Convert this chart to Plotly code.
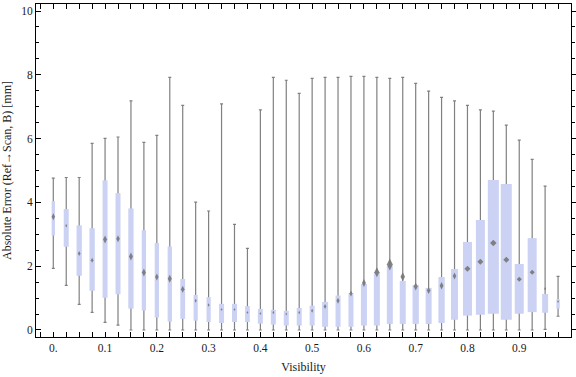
import plotly.graph_objects as go

# ---------------- data ----------------
visibility = [0.0, 0.025, 0.05, 0.075, 0.1, 0.125, 0.15, 0.175, 0.2, 0.225,
              0.25, 0.275, 0.3, 0.325, 0.35, 0.375, 0.4, 0.425, 0.45, 0.475,
              0.5, 0.525, 0.55, 0.575, 0.6, 0.625, 0.65, 0.675, 0.7, 0.725,
              0.75, 0.775, 0.8, 0.825, 0.85, 0.875, 0.9, 0.925, 0.95, 0.975]

whisker_max = [4.76, 4.78, 4.78, 5.85, 6.01, 6.05, 7.18, 5.88, 6.10, 7.92,
               7.04, 4.01, 3.73, 7.09, 3.31, 2.56, 6.90, 7.92, 7.83, 7.42,
               7.89, 7.92, 7.92, 7.95, 7.95, 7.92, 7.89, 7.92, 7.73, 7.49,
               7.29, 7.18, 7.04, 6.90, 6.86, 6.42, 5.95, 5.35, 4.51, 1.68]

q3 = [4.04, 3.79, 3.28, 3.19, 4.69, 4.29, 3.81, 3.13, 2.73, 2.62,
      1.60, 1.10, 1.03, 0.82, 0.82, 0.75, 0.66, 0.63, 0.60, 0.69,
      0.76, 0.88, 1.08, 1.16, 1.44, 1.82, 2.01, 1.54, 1.41, 1.32,
      1.66, 1.91, 2.76, 3.45, 4.70, 4.58, 2.07, 2.88, 1.13, 0.97]

mean_marker = [3.55, 3.27, 2.40, 2.19, 2.84, 2.86, 2.30, 1.80, 1.66, 1.61,
               1.28, 0.92, 0.78, 0.64, 0.64, 0.55, 0.52, 0.55, 0.50, 0.55,
               0.60, 0.74, 0.92, 1.14, 1.47, 1.81, 2.05, 1.67, 1.36, 1.24,
               1.39, 1.69, 1.92, 2.14, 2.73, 2.20, 1.59, 1.81, 1.29, 0.89]

q1 = [2.96, 2.61, 1.70, 1.23, 1.01, 1.12, 0.67, 0.61, 0.39, 0.26,
      0.35, 0.29, 0.25, 0.22, 0.25, 0.25, 0.20, 0.17, 0.14, 0.14,
      0.14, 0.10, 0.10, 0.10, 0.14, 0.14, 0.19, 0.19, 0.19, 0.19,
      0.22, 0.32, 0.45, 0.48, 0.51, 0.32, 0.51, 0.56, 0.54, 0.67]

whisker_min = [1.93, 1.40, 0.80, 0.55, 0.24, 0.15, 0.0, 0.0, 0.0, 0.0,
               0.0, 0.0, 0.0, 0.0, 0.0, 0.0, 0.0, 0.0, 0.0, 0.0,
               0.0, 0.0, 0.0, 0.0, 0.0, 0.0, 0.0, 0.0, 0.0, 0.0,
               0.0, 0.0, 0.0, 0.0, 0.0, 0.0, 0.0, 0.0, 0.02, 0.43]

x_tick_vals = [0.0, 0.1, 0.2, 0.3, 0.4, 0.5, 0.6, 0.7, 0.8, 0.9]
x_tick_text = ["0.", "0.1", "0.2", "0.3", "0.4", "0.5", "0.6", "0.7", "0.8", "0.9"]
y_tick_vals = [0, 2, 4, 6, 8, 10]
y_tick_text = ["0", "2", "4", "6", "8", "10"]

# ---------------- styles ----------------
box_width_px = [3.3, 5, 5.3, 5.3, 5, 5, 5.3, 4.3, 4.3, 4.3,
                4.8, 4.2, 4.2, 5, 5, 4.7, 5, 5, 5, 5,
                5, 6, 5, 5, 6, 6, 6, 6, 6.3, 6,
                6.3, 7, 9, 9, 11, 11, 9, 9, 6, 3.3]
marker_h_px = [7, 3.5, 5, 5, 8, 7, 8, 8, 7, 8,
               7, 4, 3.5, 3, 3, 3, 3, 3.5, 3, 3.5,
               4, 5, 6, 6, 8, 10, 12, 9, 8, 7,
               7.5, 7, 6, 6, 6.5, 6, 5, 5, 3.5, 3]
square_marker = [False] * 32 + [True] * 6 + [False] * 2

W, H = 576, 377
ML, MR, MT, MB = 36, 5, 4, 40
x_range = [-0.0334, 1.0]
y_range = [-0.22, 10.22]
px_per_x = (W - ML - MR) / (x_range[1] - x_range[0])

font_family = "Liberation Serif, Times New Roman, serif"
text_color = "#1a1a1a"
whisker_color = "#808080"
box_color = "#CBD2F4"
marker_color = "#777777"

fig = go.Figure()

# whiskers (min -> max with caps)
fig.add_trace(go.Scatter(
    x=visibility,
    y=[(a + b) / 2 for a, b in zip(whisker_min, whisker_max)],
    mode="markers",
    marker=dict(size=1, opacity=0),
    error_y=dict(type="data", symmetric=True,
                 array=[(b - a) / 2 for a, b in zip(whisker_min, whisker_max)],
                 width=1.5, thickness=1.2, color=whisker_color),
    hoverinfo="skip", showlegend=False,
))

# boxes (Q1 -> Q3)
fig.add_trace(go.Bar(
    x=visibility,
    base=q1,
    y=[b - a for a, b in zip(q1, q3)],
    width=[w / px_per_x for w in box_width_px],
    marker=dict(color=box_color, line=dict(width=0)),
    yaxis="y2", showlegend=False, hoverinfo="skip",
))

# diamond markers
fig.add_trace(go.Scatter(
    x=visibility,
    y=mean_marker,
    mode="markers",
    marker=dict(
        symbol=["diamond" if s else "diamond-tall" for s in square_marker],
        size=[h / 1.3 if s else h / 1.4 for h, s in zip(marker_h_px, square_marker)],
        color=marker_color, opacity=0.9, line=dict(width=0),
    ),
    yaxis="y2", showlegend=False, hoverinfo="skip",
))

axis_common = dict(showgrid=False, zeroline=False, linecolor="black", linewidth=1,
                   tickcolor="black", tickwidth=1, automargin=False)

fig.update_layout(
    template="none",
    width=W, height=H,
    margin=dict(l=ML, r=MR, t=MT, b=MB, pad=0, autoexpand=False),
    paper_bgcolor="white", plot_bgcolor="white",
    barmode="overlay",
    showlegend=False,
    font=dict(family=font_family, color=text_color, size=11.5),
    xaxis=dict(
        range=x_range, showline=True, mirror="ticks",
        ticks="inside", ticklen=5,
        tickmode="array", tickvals=x_tick_vals, ticktext=x_tick_text,
        minor=dict(tickmode="linear", tick0=0, dtick=0.025, ticks="inside",
                   ticklen=5, tickcolor="black", tickwidth=1, showgrid=False),
        title=dict(text="Visibility", font=dict(size=12, family=font_family), standoff=9),
        tickfont=dict(size=11.5, family=font_family, color=text_color),
        **axis_common,
    ),
    yaxis=dict(
        range=y_range, showline=True, mirror=True,
        ticks="inside", ticklen=5,
        tickmode="array", tickvals=y_tick_vals, ticktext=y_tick_text,
        minor=dict(tickmode="linear", tick0=0, dtick=0.5, ticks="inside",
                   ticklen=2.7, tickcolor="black", tickwidth=1, showgrid=False),
        title=dict(text="Absolute Error (Ref\u2192Scan, B) [mm]",
                   font=dict(size=12, family=font_family), standoff=8),
        tickfont=dict(size=11.5, family=font_family, color=text_color),
        **axis_common,
    ),
    yaxis2=dict(
        range=y_range, overlaying="y", side="right", showline=False,
        ticks="outside", ticklen=4,
        tickmode="array", tickvals=y_tick_vals, showticklabels=False,
        minor=dict(tickmode="linear", tick0=0, dtick=0.5, ticks="outside",
                   ticklen=2.7, tickcolor="black", tickwidth=1, showgrid=False),
        **axis_common,
    ),
)

fig.write_html("out.html",
               config={"displayModeBar": False, "staticPlot": True},
               post_script="document.body.style.margin='0px';document.body.style.overflow='hidden';")
